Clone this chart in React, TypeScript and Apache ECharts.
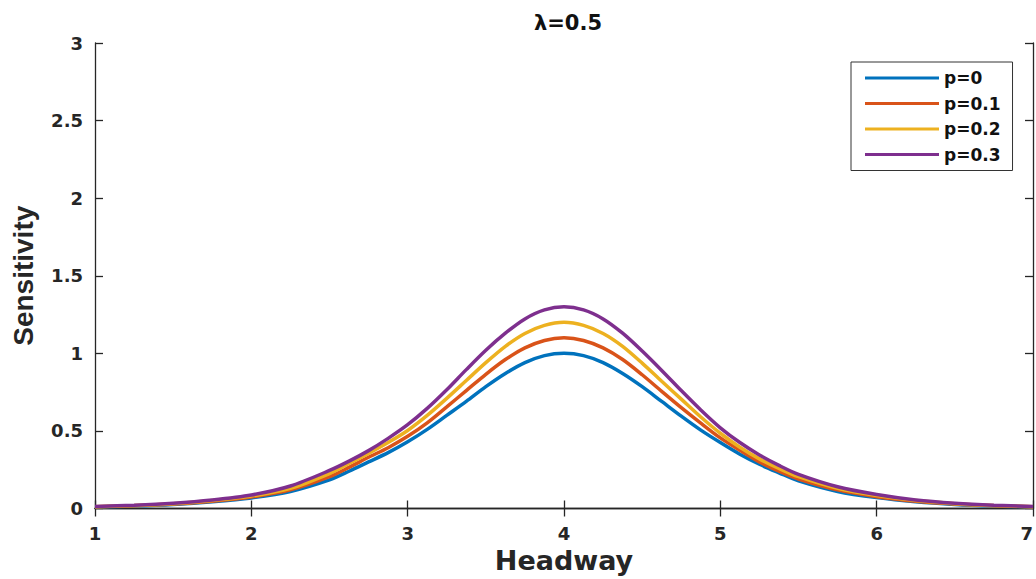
import React, { useEffect, useRef } from "react";
import * as echarts from "echarts";

const headway = [
  1, 1.25, 1.5, 1.75, 2, 2.25,
  2.5, 2.625, 2.75, 2.875, 3, 3.125, 3.25, 3.375, 3.5, 3.625, 3.75, 3.875,
  4, 4.125, 4.25, 4.375, 4.5, 4.625, 4.75, 4.875, 5, 5.125, 5.25, 5.375, 5.5,
  5.75, 6, 6.25, 6.5, 6.75, 7,
];
const p0 = [
  0.010, 0.016, 0.026, 0.043, 0.068, 0.11,
  0.185, 0.24, 0.30, 0.36, 0.43, 0.51, 0.60, 0.69, 0.785, 0.87, 0.94, 0.985,
  1.0, 0.985, 0.94, 0.87, 0.785, 0.69, 0.595, 0.505, 0.425, 0.35, 0.285, 0.23, 0.178,
  0.11, 0.07, 0.043, 0.026, 0.016, 0.010,
];
const p01 = [
  0.011, 0.018, 0.029, 0.047, 0.074, 0.12,
  0.205, 0.265, 0.33, 0.392, 0.465, 0.552, 0.655, 0.76, 0.865, 0.96, 1.035, 1.083,
  1.1, 1.083, 1.035, 0.96, 0.862, 0.755, 0.65, 0.55, 0.455, 0.375, 0.30, 0.24, 0.19,
  0.12, 0.076, 0.047, 0.029, 0.018, 0.011,
];
const p02 = [
  0.012, 0.019, 0.031, 0.051, 0.080, 0.13,
  0.225, 0.29, 0.355, 0.425, 0.503, 0.60, 0.71, 0.825, 0.94, 1.045, 1.128, 1.18,
  1.2, 1.18, 1.128, 1.045, 0.937, 0.82, 0.705, 0.59, 0.485, 0.395, 0.32, 0.258, 0.205,
  0.13, 0.083, 0.051, 0.031, 0.019, 0.012,
];
const p03 = [
  0.013, 0.021, 0.034, 0.055, 0.087, 0.145,
  0.245, 0.305, 0.373, 0.452, 0.54, 0.645, 0.765, 0.895, 1.02, 1.13, 1.222, 1.28,
  1.3, 1.28, 1.222, 1.13, 1.015, 0.89, 0.76, 0.635, 0.52, 0.425, 0.345, 0.278, 0.22,
  0.14, 0.09, 0.055, 0.034, 0.021, 0.013,
];

const seriesNames = ["p=0", "p=0.1", "p=0.2", "p=0.3"];
const seriesValues = [p0, p01, p02, p03];
const colors = ["#0072BD", "#D95319", "#EDB120", "#7E2F8E"];

const WIDE = "'DejaVu Sans', 'Liberation Sans', Arial, sans-serif";
const NARROW = "'Liberation Sans', Arial, Helvetica, sans-serif";
const AXIS_COLOR = "#262626";

export default function App() {
  const ref = useRef<HTMLDivElement>(null);
  useEffect(() => {
    if (!ref.current) return;
    const chart = echarts.init(ref.current, undefined, { renderer: "svg" });
    const axisLine = { show: true, lineStyle: { color: AXIS_COLOR, width: 1.3 } };
    const axisTick = { show: true, inside: true, length: 8, lineStyle: { color: AXIS_COLOR, width: 1.3 } };
    const labelStyle = { color: AXIS_COLOR, fontFamily: WIDE, fontWeight: "bold" as const, fontSize: 18 };
    chart.setOption({
      animation: false,
      backgroundColor: "#ffffff",
      title: {
        text: "λ=0.5",
        left: 563,
        top: 7,
        textAlign: "center",
        textStyle: { fontFamily: WIDE, fontWeight: "bold", fontSize: 21, color: "#111" },
      },
      legend: {
        orient: "vertical",
        left: 851,
        top: 62,
        padding: [7, 12, 7, 14],
        itemWidth: 74,
        itemHeight: 3,
        itemGap: 7.5,
        icon: "rect",
        borderColor: "#333",
        borderWidth: 1,
        backgroundColor: "#fff",
        textStyle: { fontFamily: WIDE, fontWeight: "bold", fontSize: 17, color: "#111", lineHeight: 18 },
        data: seriesNames,
      },
      grid: { left: 95, right: 3, top: 43, bottom: 70.5, show: false, outerBoundsMode: "none", containLabel: false },
      xAxis: [
        {
          type: "value",
          min: 1,
          max: 7,
          interval: 1,
          position: "bottom",
          name: "Headway",
          nameLocation: "middle",
          nameGap: 38,
          nameTextStyle: { fontFamily: WIDE, fontWeight: "bold", fontSize: 27, color: AXIS_COLOR },
          axisLine,
          axisTick,
          axisLabel: { ...labelStyle, margin: 16, alignMaxLabel: "right" },
          splitLine: { show: false },
        },
        {
          type: "value",
          min: 1,
          max: 7,
          interval: 1,
          position: "top",
          axisLine,
          axisTick,
          axisLabel: { show: false },
          splitLine: { show: false },
        },
      ],
      yAxis: [
        {
          type: "value",
          min: 0,
          max: 3,
          interval: 0.5,
          position: "left",
          name: "Sensitivity",
          nameLocation: "middle",
          nameGap: 58,
          nameTextStyle: { fontFamily: NARROW, fontWeight: "bold", fontSize: 28, color: AXIS_COLOR },
          axisLine,
          axisTick,
          axisLabel: { ...labelStyle, margin: 12 },
          splitLine: { show: false },
        },
        {
          type: "value",
          min: 0,
          max: 3,
          interval: 0.5,
          position: "right",
          axisLine,
          axisTick,
          axisLabel: { show: false },
          splitLine: { show: false },
        },
      ],
      series: seriesNames.map((name, i) => ({
        name,
        type: "line",
        xAxisIndex: 0,
        yAxisIndex: 0,
        data: headway.map((h, j) => [h, seriesValues[i][j]]),
        smooth: 0.3,
        showSymbol: false,
        symbol: "none",
        lineStyle: { color: colors[i], width: 3.5 },
        itemStyle: { color: colors[i] },
        z: 2 + i,
      })),
    });
    return () => chart.dispose();
  }, []);
  return <div ref={ref} style={{ position: "fixed", left: 0, top: 0, width: 1036, height: 579 }} />;
}
